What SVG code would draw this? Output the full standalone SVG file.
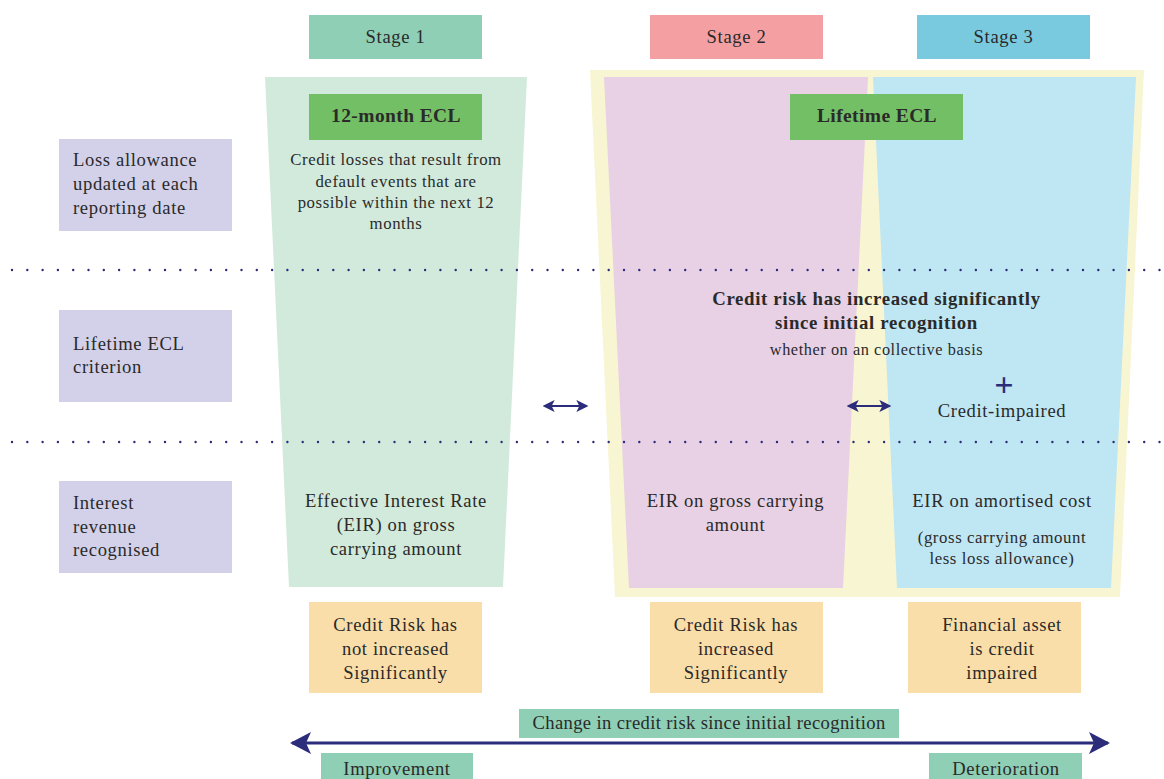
<svg xmlns="http://www.w3.org/2000/svg" width="1164" height="779" viewBox="0 0 1164 779">
<style>
text{font-family:"Liberation Serif","DejaVu Serif",serif;fill:#2a2a2a;letter-spacing:0.035em;}
.c{text-anchor:middle;}
.t18{font-size:18.6px;}
.t16{font-size:16.8px;}
.t15{font-size:16.3px;}
.b{font-weight:bold;}
.s1{fill:#8ecfb6;}
.s2{fill:#f4a0a2;}
.s3{fill:#79c9df;}
.lab{fill:#d3d1e9;}
.org{fill:#fadea9;}
.ecl{fill:#72bf65;}
.dot{stroke:#2b2d7a;stroke-width:2.4;stroke-linecap:round;stroke-dasharray:0 15.3;fill:none;}
.arr{stroke:#2b2d7a;fill:none;}
.hd{fill:#2b2d7a;}
</style>
<defs>
<marker id="hs" viewBox="0 0 10 10" refX="8" refY="5" markerWidth="5.5" markerHeight="5.5" orient="auto-start-reverse" markerUnits="strokeWidth">
<path d="M0,0 L10,5 L0,10 L2.5,5 Z" class="hd"/>
</marker>
<marker id="hb" viewBox="0 0 21 22" refX="19" refY="11" markerWidth="21" markerHeight="22" orient="auto-start-reverse" markerUnits="userSpaceOnUse">
<path d="M0,0 L21,11 L0,22 L5,11 Z" class="hd"/>
</marker>
</defs>

<g id="stage1-area">
<polygon points="265,77 527,77 503,587 289,587" fill="#d2eadb"/>
</g>
<g id="lifetime-area">
<polygon points="590,70 1144,70 1120,597 615,597" fill="#f8f5d2"/>
<polygon id="stage2-area" points="604,77 868,77 843,588 629,588" fill="#e8d0e5"/>
<polygon id="stage3-area" points="873,77 1136,77 1111,588 897,588" fill="#bfe6f3"/>
</g>

<g id="separators">
<line class="dot" x1="12" y1="270" x2="1160" y2="270"/>
<line class="dot" x1="12" y1="442" x2="1160" y2="442"/>
</g>

<g id="stage1-header"><rect class="s1" x="309" y="15" width="173" height="44"/><text class="c t18" x="395.5" y="43">Stage 1</text></g>
<g id="stage2-header"><rect class="s2" x="650" y="15" width="173" height="44"/><text class="c t18" x="736.5" y="43">Stage 2</text></g>
<g id="stage3-header"><rect class="s3" x="917" y="15" width="173" height="44"/><text class="c t18" x="1003.5" y="43">Stage 3</text></g>

<g id="ecl12"><rect class="ecl" x="309" y="94" width="173" height="46"/><text class="c b" x="396" y="122" style="font-size:19.5px;letter-spacing:0.02em">12-month ECL</text></g>
<g id="ecl-lifetime"><rect class="ecl" x="790" y="94" width="173" height="46"/><text class="c b" x="877" y="122" style="font-size:19.5px;letter-spacing:0.02em">Lifetime ECL</text></g>

<g id="ecl12-desc">
<text class="c t16" x="396" y="165">Credit losses that result from</text>
<text class="c t16" x="396" y="187">default events that are</text>
<text class="c t16" x="396" y="208">possible within the next 12</text>
<text class="c t16" x="396" y="229">months</text>
</g>

<g id="row1-label"><rect class="lab" x="59" y="139" width="173" height="92"/>
<text class="t18" x="73" y="166">Loss allowance</text>
<text class="t18" x="73" y="190">updated at each</text>
<text class="t18" x="73" y="214">reporting date</text></g>
<g id="row2-label"><rect class="lab" x="59" y="310" width="173" height="92"/>
<text class="t18" x="73" y="350">Lifetime ECL</text>
<text class="t18" x="73" y="373">criterion</text></g>
<g id="row3-label"><rect class="lab" x="59" y="481" width="173" height="92"/>
<text class="t18" x="73" y="509">Interest</text>
<text class="t18" x="73" y="533">revenue</text>
<text class="t18" x="73" y="556">recognised</text></g>

<g id="criterion">
<text class="c b" x="876.5" y="305" style="font-size:18.8px">Credit risk has increased significantly</text>
<text class="c b" x="876.5" y="329" style="font-size:18.8px">since initial recognition</text>
<text class="c t15" x="876.5" y="355">whether on an collective basis</text>
<text class="c b" x="1004" y="396" style="font-size:34px;letter-spacing:0;fill:#2b2d7a">+</text>
<text class="c t18" x="1002" y="417">Credit-impaired</text>
</g>

<g id="eir1">
<text class="c t18" x="396" y="507">Effective Interest Rate</text>
<text class="c t18" x="396" y="531">(EIR) on gross</text>
<text class="c t18" x="396" y="555">carrying amount</text>
</g>
<g id="eir2">
<text class="c t18" x="735.5" y="507">EIR on gross carrying</text>
<text class="c t18" x="735.5" y="531">amount</text>
</g>
<g id="eir3">
<text class="c t18" x="1002" y="507">EIR on amortised cost</text>
<text class="c t16" x="1002" y="543">(gross carrying amount</text>
<text class="c t16" x="1002" y="564">less loss allowance)</text>
</g>

<g id="cond1"><rect class="org" x="309" y="602" width="173" height="91"/>
<text class="c t18" x="395.5" y="631">Credit Risk has</text>
<text class="c t18" x="395.5" y="655">not increased</text>
<text class="c t18" x="395.5" y="679">Significantly</text></g>
<g id="cond2"><rect class="org" x="650" y="602" width="173" height="91"/>
<text class="c t18" x="736" y="631">Credit Risk has</text>
<text class="c t18" x="736" y="655">increased</text>
<text class="c t18" x="736" y="679">Significantly</text></g>
<g id="cond3"><rect class="org" x="908" y="602" width="173" height="91"/>
<text class="c t18" x="1002" y="631">Financial asset</text>
<text class="c t18" x="1002" y="655">is credit</text>
<text class="c t18" x="1002" y="679">impaired</text></g>

<g id="change-label"><rect class="s1" x="519" y="709" width="380" height="29"/><text class="c t18" x="709" y="729" style="letter-spacing:0.02em">Change in credit risk since initial recognition</text></g>
<g id="improvement"><rect class="s1" x="321" y="753" width="152" height="30"/><text class="c t18" x="397" y="775">Improvement</text></g>
<g id="deterioration"><rect class="s1" x="929" y="753" width="153" height="30"/><text class="c t18" x="1006" y="775">Deterioration</text></g>

<g id="connectors">
<line class="arr" x1="545" y1="406" x2="586" y2="406" stroke-width="2.2" marker-start="url(#hs)" marker-end="url(#hs)"/>
<line class="arr" x1="849" y1="406" x2="889" y2="406" stroke-width="2.2" marker-start="url(#hs)" marker-end="url(#hs)"/>
<line class="arr" x1="292" y1="743" x2="1108" y2="743" stroke-width="3" marker-start="url(#hb)" marker-end="url(#hb)"/>
</g>
</svg>
